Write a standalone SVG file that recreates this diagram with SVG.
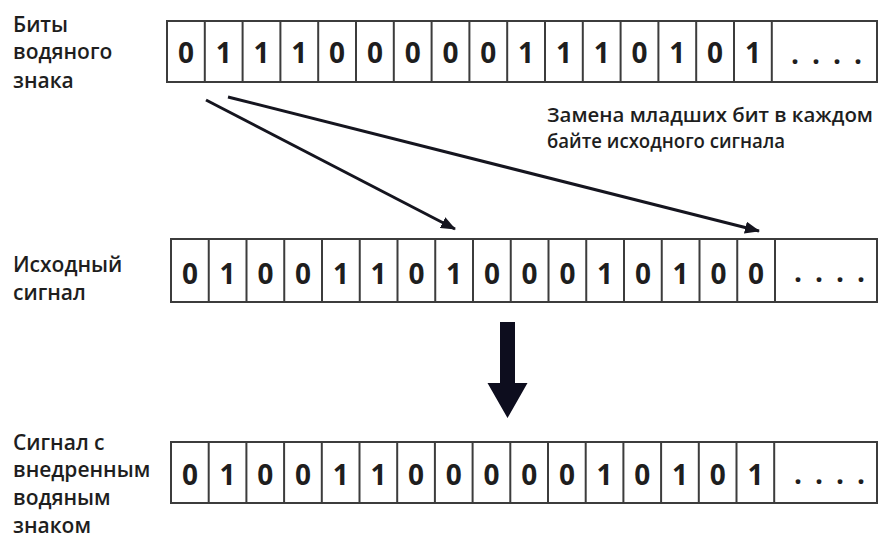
<svg xmlns="http://www.w3.org/2000/svg" width="879" height="539" viewBox="0 0 879 539">
<style>
.box{fill:#fff;stroke:#3c3c3c;stroke-width:2}
.sep{fill:none;stroke:#3c3c3c;stroke-width:2}
.bit{font-family:"Open Sans","Liberation Sans",sans-serif;font-weight:700;font-size:28px;fill:#1e1e1e;text-anchor:middle}
.dots{font-family:"Open Sans","Liberation Sans",sans-serif;font-weight:700;font-size:28px;fill:#1e1e1e;letter-spacing:13px}
.lbl{font-family:"Open Sans","Liberation Sans",sans-serif;font-weight:600;font-size:21px;fill:#1e1e1e}
.note{font-family:"Open Sans","Liberation Sans",sans-serif;font-weight:600;font-size:19.5px;fill:#1e1e1e}
.conn{fill:none;stroke:#15151f;stroke-width:3}
</style>
<defs>
<marker id="ah" markerUnits="userSpaceOnUse" markerWidth="16" markerHeight="12" refX="14" refY="6" orient="auto">
<path d="M0,0 L15,6 L0,12 Z" fill="#15151f"/>
</marker>
</defs>
<rect width="879" height="539" fill="#fff"/>

<g id="label-watermark">
<text class="lbl" x="13" y="31.7">Биты</text>
<text class="lbl" x="13" y="59.3">водяного</text>
<text class="lbl" x="13" y="88.3">знака</text>
</g>

<g id="row-watermark">
<rect class="box" x="167" y="21" width="710" height="61"/>
<path class="sep" d="M204.8 21V82M242.6 21V82M280.4 21V82M318.2 21V82M356 21V82M393.8 21V82M431.6 21V82M469.4 21V82M507.2 21V82M545 21V82M582.8 21V82M620.6 21V82M658.4 21V82M696.2 21V82M734 21V82M771.8 21V82"/>
<text class="bit" y="62.7"><tspan x="185.9">0</tspan><tspan x="223.7">1</tspan><tspan x="261.5">1</tspan><tspan x="299.3">1</tspan><tspan x="337.1">0</tspan><tspan x="374.9">0</tspan><tspan x="412.7">0</tspan><tspan x="450.5">0</tspan><tspan x="488.3">0</tspan><tspan x="526.1">1</tspan><tspan x="563.9">1</tspan><tspan x="601.7">1</tspan><tspan x="639.5">0</tspan><tspan x="677.3">1</tspan><tspan x="715.1">0</tspan><tspan x="752.9">1</tspan></text>
<text class="dots" x="791" y="63.5">....</text>
</g>

<g id="note">
<text class="note" x="547" y="121.7" textLength="326" lengthAdjust="spacingAndGlyphs">Замена младших бит в каждом</text>
<text class="note" x="547" y="148.3" textLength="238" lengthAdjust="spacingAndGlyphs">байте исходного сигнала</text>
</g>

<g id="label-source">
<text class="lbl" x="13" y="271.7">Исходный</text>
<text class="lbl" x="13" y="300">сигнал</text>
</g>

<g id="row-source">
<rect class="box" x="171" y="239" width="706" height="63"/>
<path class="sep" d="M208.75 239V302M246.5 239V302M284.25 239V302M322 239V302M359.75 239V302M397.5 239V302M435.25 239V302M473 239V302M510.75 239V302M548.5 239V302M586.25 239V302M624 239V302M661.75 239V302M699.5 239V302M737.25 239V302M775 239V302"/>
<text class="bit" y="284.3"><tspan x="189.9">0</tspan><tspan x="227.6">1</tspan><tspan x="265.4">0</tspan><tspan x="303.1">0</tspan><tspan x="340.9">1</tspan><tspan x="378.6">1</tspan><tspan x="416.4">0</tspan><tspan x="454.1">1</tspan><tspan x="491.9">0</tspan><tspan x="529.6">0</tspan><tspan x="567.4">0</tspan><tspan x="605.1">1</tspan><tspan x="642.9">0</tspan><tspan x="680.6">1</tspan><tspan x="718.4">0</tspan><tspan x="756.1">0</tspan></text>
<text class="dots" x="794" y="282">....</text>
</g>

<g id="label-result">
<text class="lbl" x="13" y="450">Сигнал с</text>
<text class="lbl" x="13" y="476.7">внедренным</text>
<text class="lbl" x="13" y="505">водяным</text>
<text class="lbl" x="13" y="533">знаком</text>
</g>

<g id="row-result">
<rect class="box" x="171" y="442" width="706" height="61"/>
<path class="sep" d="M208.7 442V503M246.4 442V503M284.1 442V503M321.8 442V503M359.5 442V503M397.2 442V503M434.9 442V503M472.6 442V503M510.3 442V503M548 442V503M585.7 442V503M623.4 442V503M661.1 442V503M698.8 442V503M736.5 442V503M774.2 442V503"/>
<text class="bit" y="485"><tspan x="189.9">0</tspan><tspan x="227.6">1</tspan><tspan x="265.3">0</tspan><tspan x="303">0</tspan><tspan x="340.7">1</tspan><tspan x="378.4">1</tspan><tspan x="416.1">0</tspan><tspan x="453.8">0</tspan><tspan x="491.5">0</tspan><tspan x="529.2">0</tspan><tspan x="566.9">0</tspan><tspan x="604.6">1</tspan><tspan x="642.3">0</tspan><tspan x="680">1</tspan><tspan x="717.7">0</tspan><tspan x="755.4">1</tspan></text>
<text class="dots" x="794" y="484">....</text>
</g>

<g id="connectors">
<line class="conn" x1="206" y1="100" x2="455" y2="229" marker-end="url(#ah)"/>
<line class="conn" x1="228" y1="97" x2="759" y2="231" marker-end="url(#ah)"/>
<path d="M500 322H515V383H527.5L507.5 418L487.5 383H500Z" fill="#0d0d1e"/>
</g>
</svg>
